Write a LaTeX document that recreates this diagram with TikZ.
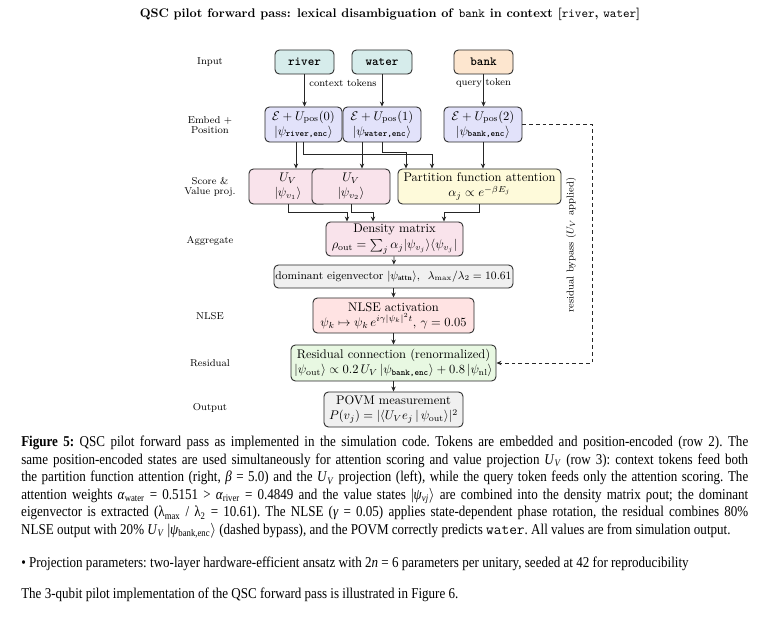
\documentclass[tikz,border=0pt]{standalone}
\usepackage{fontspec}
\usepackage{amsmath,amssymb}
\usetikzlibrary{arrows.meta,calc}
\newfontfamily\capfont{Liberation Serif}[FakeStretch=0.87]
\definecolor{tokctx}{HTML}{D6ECEB}
\definecolor{tokq}{HTML}{FDE6CF}
\definecolor{embc}{HTML}{E2E2FA}
\definecolor{pinkc}{HTML}{F9E3EB}
\definecolor{attc}{HTML}{FEFADA}
\definecolor{grayc}{HTML}{F0F0F0}
\definecolor{nlsec}{HTML}{FFE3E3}
\definecolor{resc}{HTML}{E8F8E2}
\tikzset{
  box/.style={draw=black!85, rounded corners=3.5pt, line width=0.7pt, align=center, inner sep=0pt},
  arr/.style={-{Stealth[length=4pt,width=3.5pt]}, line width=0.6pt, black!85},
  rowlbl/.style={font=\footnotesize, align=center, inner sep=0pt},
  smlbl/.style={font=\footnotesize, inner sep=1pt},
  captxt/.style={font=\capfont\fontsize{12}{14}\selectfont\frenchspacing, inner sep=0pt}
}
\begin{document}
\begin{tikzpicture}[x=0.8pt,y=-0.8pt]
\useasboundingbox (0,0) rectangle (777,618);
% title
\node (title) at (390,14) {\bfseries QSC pilot forward pass: lexical disambiguation of \texttt{\mdseries bank} in context [\texttt{\mdseries river}, \texttt{\mdseries water}]};
% row labels
\node[rowlbl] (lin) at (210,62) {Input};
\node[rowlbl] (lemb) at (210,125) {Embed +\\[-2pt]Position};
\node[rowlbl] (lsc) at (210,187) {Score \&\\[-2pt]Value proj.};
\node[rowlbl] (lagg) at (210,241) {Aggregate};
\node[rowlbl] (lnl) at (210,316) {NLSE};
\node[rowlbl] (lres) at (210,363) {Residual};
\node[rowlbl] (lout) at (210,408) {Output};
% inputs
\node[box, fill=tokctx, minimum width=59*0.8pt, minimum height=24*0.8pt] (river) at (304.5,62) {\ttfamily\bfseries river};
\node[box, fill=tokctx, minimum width=60*0.8pt, minimum height=24*0.8pt] (water) at (382,62) {\ttfamily\bfseries water};
\node[box, fill=tokq, minimum width=59*0.8pt, minimum height=24*0.8pt] (bank) at (483.5,62) {\ttfamily\bfseries bank};
% embed
\node[box, fill=embc, minimum width=77*0.8pt, minimum height=35*0.8pt] (e0) at (303.5,124.5) {$\mathcal{E}+U_{\mathrm{pos}}(0)$\\$|\psi_{\text{\ttfamily\bfseries river,enc}}\rangle$};
\node[box, fill=embc, minimum width=78*0.8pt, minimum height=35*0.8pt] (e1) at (382,124.5) {$\mathcal{E}+U_{\mathrm{pos}}(1)$\\$|\psi_{\text{\ttfamily\bfseries water,enc}}\rangle$};
\node[box, fill=embc, minimum width=78*0.8pt, minimum height=35*0.8pt] (e2) at (483,124.5) {$\mathcal{E}+U_{\mathrm{pos}}(2)$\\$|\psi_{\text{\ttfamily\bfseries bank,enc}}\rangle$};
% score row
\node[box, fill=pinkc, minimum width=78*0.8pt, minimum height=35*0.8pt] (uv1) at (288,186.5) {$U_V$\\$|\psi_{v_1}\rangle$};
\node[box, fill=pinkc, minimum width=78*0.8pt, minimum height=35*0.8pt] (uv2) at (351,186.5) {$U_V$\\$|\psi_{v_2}\rangle$};
\node[box, fill=attc, minimum width=163*0.8pt, minimum height=35*0.8pt] (att) at (479.5,186.5) {Partition function attention\\$\alpha_j \propto e^{-\beta E_j}$};
% aggregate
\node[box, fill=pinkc, minimum width=137*0.8pt, minimum height=34*0.8pt] (dens) at (394.5,239) {Density matrix\\[1pt]$\rho_{\mathrm{out}}=\sum_j \alpha_j|\psi_{v_j}\rangle\langle\psi_{v_j}|$};
\node[box, fill=grayc, minimum width=239*0.8pt, minimum height=23*0.8pt] (eig) at (393.5,276.5) {\small dominant eigenvector $|\psi_{\mathbf{attn}}\rangle$,\ \ $\lambda_{\max}/\lambda_2=10.61$};
\node[box, fill=nlsec, minimum width=161*0.8pt, minimum height=35*0.8pt] (nlse) at (393.5,315.5) {NLSE activation\\$\psi_k\mapsto\psi_k\,e^{i\gamma|\psi_k|^2t}$,\ $\gamma=0.05$};
\node[box, fill=resc, minimum width=205*0.8pt, minimum height=36*0.8pt] (res) at (393.5,363) {Residual connection (renormalized)\\$|\psi_{\mathrm{out}}\rangle\propto 0.2\,U_V\,|\psi_{\text{\ttfamily\bfseries bank,enc}}\rangle+0.8\,|\psi_{\mathrm{nl}}\rangle$};
\node[box, fill=grayc, minimum width=139*0.8pt, minimum height=35*0.8pt] (povm) at (393.5,409.5) {POVM measurement\\$P(v_j)=|\langle U_V e_j\,|\,\psi_{\mathrm{out}}\rangle|^2$};
% helper coordinates
\coordinate (busA) at (0,154);
\coordinate (busB) at (0,152);
\coordinate (busC) at (0,212);
\coordinate (byx) at (592,0);
% input arrows
\draw[arr] (river.south) -- (river.south |- e0.north);
\draw[arr] (water.south) -- (water.south |- e1.north);
\draw[arr] (bank.south) -- (bank.south |- e2.north);
\node[smlbl] (ctxlbl) at (343,83) {context tokens};
\node[smlbl] (qlbl) at (483.5,83) {query token};
% embed -> score
\draw[arr] ([xshift=-6pt]e0.south) -- ([xshift=-6pt]e0.south |- uv1.north);
\draw[arr] ([xshift=-16pt]e1.south) -- ([xshift=-16pt]e1.south |- uv2.north);
\draw[arr] (e0.south) -- (e0.south |- busA) -| ([xshift=-38pt]att.north);
\draw[arr] (e1.south) -- (e1.south |- busB) -| ([xshift=-58.8pt]att.north);
\draw[arr] (e2.south) -- (e2.south |- att.north);
% score -> aggregate
\draw[arr] (uv1.south) -- (uv1.south |- busC) -| ([xshift=-38pt]dens.north);
\draw[arr] (uv2.south) -- (uv2.south |- busC) -| ([xshift=-17.2pt]dens.north);
\draw[arr] (att.south) -- (att.south |- busC) -| ([xshift=39.6pt]dens.north);
% chain
\draw[arr] (dens) -- (eig);
\draw[arr] (eig) -- (nlse);
\draw[arr] (nlse) -- (res);
\draw[arr] (res) -- (povm);
% bypass
\draw[arr, dash pattern=on 3pt off 2.4pt] (e2.east) -- (e2.east -| byx) |- (res.east);
\node[rotate=90, font=\footnotesize, inner sep=0pt] (bylbl) at (571,245) {residual bypass ($U_V$ applied)};
% caption
\node[captxt, anchor=north west, text width=727*0.8pt, align=justify] (cap) at (21,436) {\textbf{Figure 5:} QSC pilot forward pass as implemented in the simulation code. Tokens are embedded and position-encoded (row 2). The\linebreak
same position-encoded states are used simultaneously for attention scoring and value projection \textit{U}\textsubscript{\textit{V}} (row 3): context tokens feed both\linebreak
the partition function attention (right, \textit{β} = 5.0) and the \textit{U}\textsubscript{\textit{V}} projection (left), while the query token feeds only the attention scoring. The\linebreak
attention weights \textit{α}\textsubscript{water} = 0.5151 > \textit{α}\textsubscript{river} = 0.4849 and the value states |\textit{ψ}\textsubscript{\textit{vj}}\ensuremath{\rangle} are combined into the density matrix ρout; the dominant\linebreak
eigenvector is extracted (λ\textsubscript{max} / λ\textsubscript{2} = 10.61). The NLSE (\textit{γ} = 0.05) applies state-dependent phase rotation, the residual combines 80\%\linebreak
NLSE output with 20\% \textit{U}\textsubscript{\textit{V}} |\textit{ψ}\textsubscript{bank,enc}\ensuremath{\rangle} (dashed bypass), and the POVM correctly predicts \texttt{water}. All values are from simulation output.};
\node[captxt, anchor=west] (bul) at (21,564) {• Projection parameters: two-layer hardware-efficient ansatz with 2\textit{n} = 6 parameters per unitary, seeded at 42 for reproducibility};
\node[captxt, anchor=west] (last) at (21,595) {The 3-qubit pilot implementation of the QSC forward pass is illustrated in Figure 6.};
\end{tikzpicture}
\end{document}
